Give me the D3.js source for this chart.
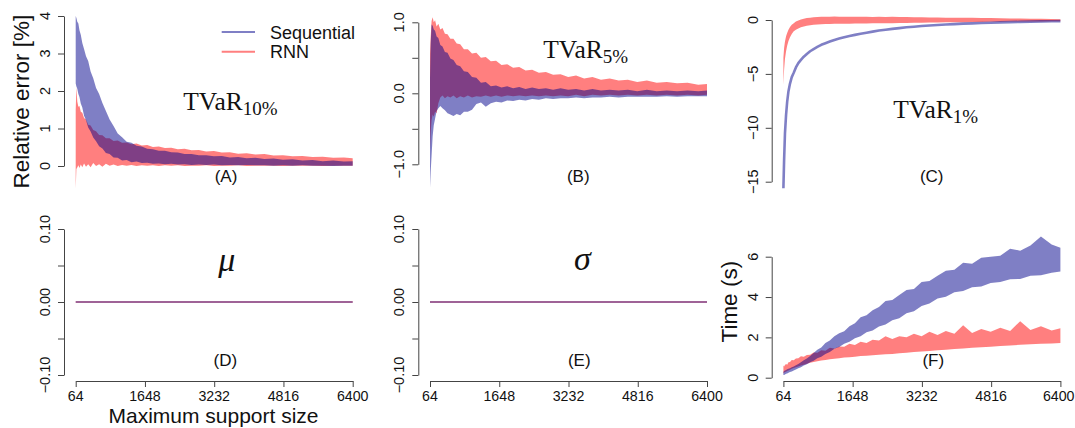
<!DOCTYPE html>
<html><head><meta charset="utf-8">
<script src="https://cdn.jsdelivr.net/npm/d3@7"></script>
<style>body{margin:0;background:#fff}svg{display:block}</style>
</head><body><svg id="chart" width="1075" height="428"></svg>
<script>
// ---------------- data ----------------
const supportSizes = [64, 80, 100, 125, 150, 180, 215, 255, 300, 350, 405, 465, 530, 600, 675, 755, 840, 930, 1025, 1125, 1230, 1340, 1455, 1575, 1700, 1830, 1965, 2105, 2250, 2400, 2555, 2715, 2880, 3050, 3225, 3405, 3590, 3780, 3975, 4175, 4380, 4590, 4805, 5025, 5250, 5480, 5715, 5955, 6200, 6400];
const xTickValues = [64, 1648, 3232, 4816, 6400];
const seriesNames = ["Sequential", "RNN"];

// (A) TVaR 10% relative error [%]: band upper / lower
const seqA_hi = [4.0, 3.95, 3.85, 3.8, 3.62, 3.5, 3.28, 3.12, 2.93, 2.8, 2.52, 2.34, 2.08, 1.92, 1.68, 1.47, 1.24, 1.07, 0.87, 0.77, 0.65, 0.62, 0.54, 0.52, 0.46, 0.45, 0.41, 0.41, 0.37, 0.36, 0.32, 0.32, 0.29, 0.29, 0.26, 0.27, 0.23, 0.24, 0.21, 0.22, 0.19, 0.2, 0.17, 0.18, 0.15, 0.16, 0.13, 0.15, 0.12, 0.13];
const seqA_lo = [2.2, 2.12, 2.06, 1.92, 1.84, 1.67, 1.56, 1.34, 1.22, 1.03, 0.92, 0.76, 0.66, 0.53, 0.47, 0.35, 0.32, 0.23, 0.22, 0.15, 0.16, 0.1, 0.12, 0.08, 0.09, 0.06, 0.07, 0.05, 0.06, 0.04, 0.05, 0.03, 0.04, 0.03, 0.04, 0.02, 0.03, 0.02, 0.03, 0.02, 0.02, 0.01, 0.02, 0.01, 0.02, 0.01, 0.01, 0.0, 0.01, 0.01];
const rnnA_hi = [1.5, 2.1, 1.72, 1.58, 1.6, 1.45, 1.42, 1.28, 1.24, 1.1, 1.08, 0.96, 0.93, 0.83, 0.82, 0.74, 0.74, 0.67, 0.68, 0.62, 0.63, 0.58, 0.6, 0.55, 0.56, 0.51, 0.52, 0.48, 0.49, 0.45, 0.46, 0.42, 0.43, 0.39, 0.4, 0.36, 0.37, 0.33, 0.34, 0.31, 0.32, 0.28, 0.29, 0.26, 0.27, 0.24, 0.25, 0.22, 0.23, 0.21];
const rnnA_lo = [-0.6, -0.08, -0.04, 0.02, -0.05, 0.04, -0.03, 0.07, -0.02, 0.05, -0.03, 0.08, 0.0, 0.05, -0.02, 0.06, 0.01, 0.04, 0.0, 0.03, 0.01, 0.03, 0.0, 0.02, 0.01, 0.02, 0.0, 0.02, 0.01, 0.02, 0.0, 0.01, 0.01, 0.02, 0.0, 0.01, 0.01, 0.02, 0.0, 0.01, 0.01, 0.01, 0.0, 0.01, 0.01, 0.01, 0.0, 0.01, 0.01, 0.01];

// (B) TVaR 5%
const seqB_hi = [0.2, 0.7, 0.97, 0.95, 0.9, 0.88, 0.8, 0.78, 0.68, 0.66, 0.58, 0.57, 0.49, 0.47, 0.4, 0.38, 0.31, 0.3, 0.23, 0.22, 0.15, 0.16, 0.1, 0.11, 0.08, 0.1, 0.07, 0.09, 0.06, 0.08, 0.06, 0.07, 0.05, 0.07, 0.05, 0.06, 0.04, 0.06, 0.04, 0.05, 0.04, 0.05, 0.03, 0.05, 0.03, 0.04, 0.03, 0.04, 0.03, 0.04];
const seqB_lo = [-1.33, -1.1, -0.88, -0.6, -0.45, -0.36, -0.25, -0.21, -0.18, -0.21, -0.24, -0.28, -0.3, -0.32, -0.29, -0.31, -0.26, -0.26, -0.23, -0.15, -0.13, -0.19, -0.14, -0.12, -0.13, -0.1, -0.11, -0.09, -0.1, -0.08, -0.09, -0.07, -0.08, -0.07, -0.07, -0.06, -0.07, -0.06, -0.06, -0.05, -0.06, -0.05, -0.05, -0.05, -0.05, -0.04, -0.05, -0.04, -0.04, -0.04];
const rnnB_hi = [0.56, 0.8, 1.02, 1.07, 1.0, 1.03, 0.94, 0.98, 0.9, 0.92, 0.84, 0.83, 0.77, 0.77, 0.7, 0.69, 0.62, 0.62, 0.56, 0.57, 0.5, 0.51, 0.45, 0.46, 0.4, 0.41, 0.36, 0.37, 0.32, 0.33, 0.29, 0.3, 0.26, 0.27, 0.23, 0.25, 0.21, 0.23, 0.19, 0.21, 0.18, 0.19, 0.16, 0.18, 0.15, 0.16, 0.14, 0.15, 0.12, 0.13];
const rnnB_lo = [-0.8, -0.55, -0.38, -0.3, -0.33, -0.26, -0.28, -0.14, -0.06, -0.03, -0.07, -0.04, -0.06, -0.03, -0.07, -0.04, -0.06, -0.03, -0.06, -0.04, -0.05, -0.03, -0.05, -0.03, -0.05, -0.03, -0.04, -0.03, -0.04, -0.03, -0.04, -0.03, -0.04, -0.03, -0.04, -0.02, -0.04, -0.02, -0.03, -0.02, -0.03, -0.02, -0.03, -0.02, -0.03, -0.02, -0.03, -0.02, -0.03, -0.02];

// (C) TVaR 1%
const seqC = [-15.6, -13.0, -10.5, -8.8, -7.6, -6.6, -5.9, -5.3, -4.9, -4.4, -4.0, -3.7, -3.4, -3.15, -2.9, -2.7, -2.5, -2.3, -2.15, -2.0, -1.85, -1.72, -1.6, -1.48, -1.38, -1.28, -1.18, -1.08, -0.98, -0.9, -0.82, -0.75, -0.68, -0.62, -0.56, -0.51, -0.46, -0.42, -0.38, -0.34, -0.31, -0.28, -0.25, -0.22, -0.2, -0.17, -0.15, -0.13, -0.11, -0.1];
const rnnC_hi = [-3.5, -2.6, -2.0, -1.5, -1.2, -0.9, -0.65, -0.45, -0.3, -0.15, -0.05, 0.05, 0.12, 0.18, 0.22, 0.26, 0.28, 0.3, 0.31, 0.29, 0.32, 0.3, 0.31, 0.29, 0.31, 0.29, 0.3, 0.28, 0.3, 0.28, 0.29, 0.27, 0.27, 0.25, 0.26, 0.24, 0.24, 0.22, 0.22, 0.2, 0.2, 0.18, 0.18, 0.16, 0.15, 0.14, 0.12, 0.11, 0.09, 0.08];
const rnnC_lo = [-6.0, -4.6, -3.6, -2.9, -2.4, -1.95, -1.6, -1.3, -1.05, -0.9, -0.78, -0.68, -0.6, -0.53, -0.48, -0.44, -0.41, -0.39, -0.37, -0.36, -0.35, -0.35, -0.34, -0.34, -0.33, -0.33, -0.32, -0.31, -0.31, -0.3, -0.29, -0.28, -0.27, -0.26, -0.25, -0.24, -0.23, -0.22, -0.21, -0.2, -0.19, -0.18, -0.17, -0.16, -0.15, -0.15, -0.14, -0.13, -0.12, -0.12];

// (D) mu and (E) sigma: zero error everywhere
const flatSizes = [64, 1648, 3232, 4816, 6400];
const seqD = [0, 0, 0, 0, 0];
const rnnD = [0, 0, 0, 0, 0];
const seqE = [0, 0, 0, 0, 0];
const rnnE = [0, 0, 0, 0, 0];

// (F) time (s)
const seqF_hi = [0.3, 0.33, 0.36, 0.38, 0.42, 0.45, 0.47, 0.52, 0.55, 0.62, 0.68, 0.76, 0.86, 0.95, 1.08, 1.22, 1.38, 1.5, 1.72, 1.85, 2.05, 2.2, 2.3, 2.55, 2.7, 3.0, 3.1, 3.35, 3.5, 3.8, 3.85, 4.1, 4.35, 4.4, 4.75, 4.8, 5.05, 5.3, 5.35, 5.7, 5.65, 5.95, 6.0, 6.05, 6.4, 6.3, 6.55, 7.0, 6.6, 6.45];
const seqF_lo = [0.13, 0.14, 0.16, 0.19, 0.21, 0.24, 0.28, 0.31, 0.36, 0.41, 0.47, 0.52, 0.61, 0.67, 0.77, 0.84, 0.96, 1.04, 1.18, 1.28, 1.43, 1.52, 1.68, 1.78, 1.96, 2.06, 2.25, 2.34, 2.54, 2.64, 2.85, 2.95, 3.19, 3.3, 3.55, 3.68, 3.93, 4.02, 4.24, 4.3, 4.48, 4.52, 4.7, 4.74, 4.88, 4.9, 5.05, 5.08, 5.2, 5.26];
const rnnF_hi = [0.6, 0.55, 0.63, 0.68, 0.64, 0.76, 0.78, 0.88, 0.86, 0.95, 0.96, 1.06, 1.04, 1.12, 1.14, 1.25, 1.24, 1.36, 1.34, 1.48, 1.45, 1.55, 1.54, 1.68, 1.62, 1.78, 1.72, 1.88, 1.84, 2.05, 1.92, 2.05, 2.0, 2.18, 2.06, 2.28, 2.12, 2.32, 2.18, 2.6, 2.22, 2.42, 2.28, 2.48, 2.32, 2.8, 2.36, 2.55, 2.34, 2.45];
const rnnF_lo = [0.21, 0.25, 0.28, 0.3, 0.33, 0.36, 0.4, 0.44, 0.48, 0.52, 0.56, 0.6, 0.64, 0.69, 0.74, 0.78, 0.82, 0.85, 0.88, 0.91, 0.94, 0.97, 1.0, 1.02, 1.04, 1.07, 1.09, 1.11, 1.14, 1.16, 1.18, 1.21, 1.24, 1.27, 1.3, 1.33, 1.36, 1.39, 1.42, 1.45, 1.48, 1.51, 1.54, 1.57, 1.6, 1.63, 1.66, 1.68, 1.7, 1.72];

// axis ticks and labels
const ticksA = [0, 1, 2, 3, 4];            const labelsA = ["0", "1", "2", "3", "4"];
const ticksB = [-1, -0.5, 0, 0.5, 1];      const labelsB = ["\u22121.0", "", "0.0", "", "1.0"];
const ticksC = [-15, -10, -5, 0];          const labelsC = ["\u221215", "\u221210", "\u22125", "0"];
const ticksDE = [-0.1, -0.05, 0, 0.05, 0.1]; const labelsDE = ["\u22120.10", "", "0.00", "", "0.10"];
const ticksF = [0, 2, 4, 6];               const labelsF = ["0", "2", "4", "6"];

// ---------------- drawing ----------------
const svg = d3.select("#chart");
const RED = "#ff0000", BLUE = "#00008b", ALPHA = 0.5;
const AXIS = "#444";
const SANS = "'Liberation Sans', Arial, Helvetica, sans-serif";
const SERIF = "'Liberation Serif', 'Times New Roman', serif";
const colX = [64, 418.3, 771.7];

function makeX(col) {
  return d3.scaleLinear().domain([64, 6400]).range([colX[col] + 11.7, colX[col] + 288.7]);
}

function band(g, x, y, hi, lo, color) {
  const pts = supportSizes.map((s, i) => ({s, hi: hi[i], lo: lo[i]}));
  g.append("path")
    .attr("d", d3.area().x(d => x(d.s)).y0(d => y(d.lo)).y1(d => y(d.hi))(pts))
    .attr("fill", color).attr("fill-opacity", ALPHA).attr("stroke", "none");
}
function line(g, x, y, sizes, vals, color, w) {
  const pts = sizes.map((s, i) => ({s, v: vals[i]}));
  g.append("path")
    .attr("d", d3.line().x(d => x(d.s)).y(d => y(d.v))(pts))
    .attr("fill", "none").attr("stroke", color).attr("stroke-opacity", ALPHA)
    .attr("stroke-width", w).attr("stroke-linejoin", "round");
}

function yAxis(col, y, ticks, labels) {
  const ax = svg.append("g").attr("transform", `translate(${colX[col]},0)`)
    .call(d3.axisLeft(y).tickValues(ticks).tickSize(6).tickSizeOuter(0).tickFormat(""));
  ax.selectAll("path,line").attr("stroke", AXIS).attr("stroke-width", 1);
  const bx = colX[col] - 14;
  ticks.forEach((t, i) => {
    if (!labels[i]) return;
    svg.append("text").attr("x", bx).attr("y", y(t))
      .attr("transform", `rotate(-90,${bx},${y(t)})`)
      .attr("text-anchor", "middle").attr("font-family", SANS).attr("font-size", 14.5)
      .attr("fill", "#111").text(labels[i]);
  });
}
function xAxis(col, x, lastAtEdge) {
  const ax = svg.append("g").attr("transform", `translate(0,381)`)
    .call(d3.axisBottom(x).tickValues(xTickValues).tickSize(6).tickSizeOuter(0).tickFormat(""));
  ax.selectAll("path,line").attr("stroke", AXIS).attr("stroke-width", 1);
  xTickValues.forEach((t, i) => {
    const atEdge = lastAtEdge && i === xTickValues.length - 1;
    svg.append("text").attr("x", atEdge ? 1074.5 : x(t)).attr("y", 400.5)
      .attr("text-anchor", atEdge ? "end" : "middle")
      .attr("font-family", SANS).attr("font-size", 14.2).attr("fill", "#111").text(String(t));
  });
}
function panelLetter(cx, by, s) {
  svg.append("text").attr("x", cx).attr("y", by).attr("text-anchor", "middle")
    .attr("font-family", SANS).attr("font-size", 17).attr("fill", "#111").text(s);
}
function tvarTitle(x0, by, sub) {
  const t = svg.append("text").attr("x", x0).attr("y", by).attr("font-family", SERIF)
    .attr("font-size", 25.5).attr("fill", "#111");
  t.append("tspan").text("TVaR");
  t.append("tspan").attr("font-size", 19).attr("dy", 5).text(sub);
}

// Panel A
{
  const x = makeX(0), y = d3.scaleLinear().domain([0, 4]).range([166, 16]);
  const g = svg.append("g");
  band(g, x, y, rnnA_hi, rnnA_lo, RED);
  band(g, x, y, seqA_hi, seqA_lo, BLUE);
  yAxis(0, y, ticksA, labelsA);
  panelLetter(226, 182, "(A)");
  tvarTitle(183.3, 110, "10%");
}
// Panel B
{
  const x = makeX(1), y = d3.scaleLinear().domain([-1, 1]).range([164.3, 22.3]);
  const g = svg.append("g");
  band(g, x, y, rnnB_hi, rnnB_lo, RED);
  band(g, x, y, seqB_hi, seqB_lo, BLUE);
  yAxis(1, y, ticksB, labelsB);
  panelLetter(578.3, 182, "(B)");
  tvarTitle(543.3, 58.3, "5%");
}
// Panel C
{
  const x = makeX(2), y = d3.scaleLinear().domain([-15, 0]).range([181.7, 20]);
  const g = svg.append("g");
  band(g, x, y, rnnC_hi, rnnC_lo, RED);
  line(g, x, y, supportSizes, seqC, BLUE, 2.6);
  yAxis(2, y, ticksC, labelsC);
  panelLetter(931.7, 182, "(C)");
  tvarTitle(893.3, 118.3, "1%");
}
// Panel D
{
  const x = makeX(0), y = d3.scaleLinear().domain([-0.1, 0.1]).range([375, 229]);
  const g = svg.append("g");
  line(g, x, y, flatSizes, rnnD, RED, 1.5);
  line(g, x, y, flatSizes, seqD, BLUE, 1.5);
  yAxis(0, y, ticksDE, labelsDE);
  xAxis(0, x, false);
  panelLetter(225.3, 366, "(D)");
  svg.append("text").attr("x", 226.7).attr("y", 271).attr("text-anchor", "middle")
    .attr("font-family", SERIF).attr("font-style", "italic").attr("font-size", 34)
    .attr("fill", "#111").text("\u03bc");
}
// Panel E
{
  const x = makeX(1), y = d3.scaleLinear().domain([-0.1, 0.1]).range([375, 229]);
  const g = svg.append("g");
  line(g, x, y, flatSizes, rnnE, RED, 1.5);
  line(g, x, y, flatSizes, seqE, BLUE, 1.5);
  yAxis(1, y, ticksDE, labelsDE);
  xAxis(1, x, false);
  panelLetter(579.3, 366, "(E)");
  svg.append("text").attr("x", 582.5).attr("y", 270).attr("text-anchor", "middle")
    .attr("font-family", SERIF).attr("font-style", "italic").attr("font-size", 34)
    .attr("fill", "#111").text("\u03c3");
}
// Panel F
{
  const x = makeX(2), y = d3.scaleLinear().domain([0, 6]).range([377.7, 256.7]);
  const g = svg.append("g");
  band(g, x, y, rnnF_hi, rnnF_lo, RED);
  band(g, x, y, seqF_hi, seqF_lo, BLUE);
  yAxis(2, y, ticksF, labelsF);
  xAxis(2, x, true);
  panelLetter(933.3, 366, "(F)");
}

// axis titles
svg.append("text").attr("x", 29.5).attr("y", 101.7)
  .attr("transform", "rotate(-90,29.5,101.7)").attr("text-anchor", "middle")
  .attr("font-family", SANS).attr("font-size", 22.5).attr("fill", "#111").text("Relative error [%]");
svg.append("text").attr("x", 213.5).attr("y", 423.3)
  .attr("text-anchor", "middle").attr("font-family", SANS).attr("font-size", 21)
  .attr("fill", "#111").text("Maximum support size");
svg.append("text").attr("x", 737.5).attr("y", 301.7)
  .attr("transform", "rotate(-90,737.5,301.7)").attr("text-anchor", "middle")
  .attr("font-family", SANS).attr("font-size", 22.5).attr("fill", "#111").text("Time (s)");

// legend
const legendColors = [BLUE, RED];
const legendY = [32, 51.7];
seriesNames.forEach((name, i) => {
  svg.append("line").attr("x1", 221.7).attr("x2", 255).attr("y1", legendY[i]).attr("y2", legendY[i])
    .attr("stroke", legendColors[i]).attr("stroke-opacity", ALPHA).attr("stroke-width", 2);
  svg.append("text").attr("x", 270).attr("y", legendY[i] + 6.7)
    .attr("font-family", SANS).attr("font-size", 18).attr("fill", "#111").text(name);
});
</script></body></html>
